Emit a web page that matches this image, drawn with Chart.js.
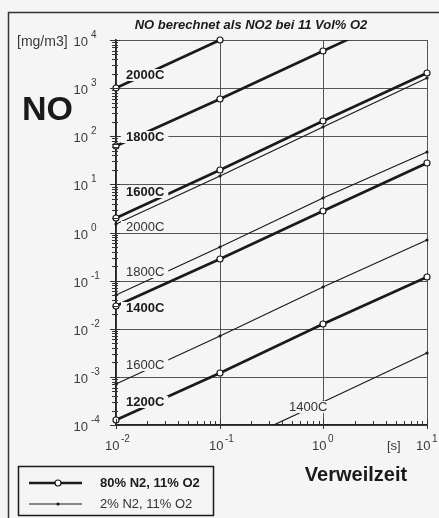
<!DOCTYPE html>
<html>
<head>
<meta charset="utf-8">
<script src="https://cdn.jsdelivr.net/npm/chart.js@4.4.1/dist/chart.umd.min.js"></script>
<style>
html,body{margin:0;padding:0;background:#f5f5f5;}
#wrap{width:439px;height:518px;position:relative;overflow:hidden;}
</style>
</head>
<body>
<div id="wrap"><canvas id="c" width="439" height="518"></canvas></div>
<script>
// ---- data ----
const times = [0.01, 0.1, 1, 10];               // Verweilzeit [s]
// 80% N2, 11% O2 (thick lines, open circles)
const no80_2000 = [1000, 10000, null, null];
const no80_1800 = [62, 595, 6000, 60000];
const no80_1600 = [2.0, 20, 210, 2050];
const no80_1400 = [0.03, 0.28, 2.8, 27.6];
const no80_1200 = [0.000125, 0.0012, 0.0126, 0.12];
// 2% N2, 11% O2 (thin lines, small dots)
const no2_2000 = [1.5, 15, 155, 1600];
const no2_1800 = [0.05, 0.5, 5.2, 47];
const no2_1600 = [0.0007, 0.0071, 0.074, 0.7];
const no2_1400 = [0.000003, 0.00003, 0.0003, 0.0032];
// tick labels (powers of ten)
const yTickExps = [-4, -3, -2, -1, 0, 1, 2, 3, 4];
const xTickExps = [-2, -1, 0, 1];
const seriesNames = ['80% N2, 11% O2', '2% N2, 11% O2'];
const titleText = 'NO berechnet als NO2 bei 11 Vol% O2';

// ---- line labels (text + anchor in data coordinates) ----
const lineLabels = [
  {text: '2000C', bold: true,  t: 0.0125, v: Math.pow(10, 3.27)},
  {text: '1800C', bold: true,  t: 0.0125, v: Math.pow(10, 1.98)},
  {text: '1600C', bold: true,  t: 0.0125, v: Math.pow(10, 0.84)},
  {text: '2000C', bold: false, t: 0.0125, v: Math.pow(10, 0.11)},
  {text: '1800C', bold: false, t: 0.0125, v: Math.pow(10, -0.82)},
  {text: '1400C', bold: true,  t: 0.0125, v: Math.pow(10, -1.57)},
  {text: '1600C', bold: false, t: 0.0125, v: Math.pow(10, -2.75)},
  {text: '1200C', bold: true,  t: 0.0125, v: Math.pow(10, -3.52)},
  {text: '1400C', bold: false, t: 0.47,   v: Math.pow(10, -3.63)}
];

const BG = '#f5f5f5';
const INK = '#1a1a1a';
const FONT = '"Liberation Sans", Arial, Helvetica, sans-serif';

function pts(arr) { return times.map((t, i) => ({x: t, y: arr[i]})); }

function thick(arr, clip) {
  return {
    data: pts(arr), borderColor: INK, borderWidth: 2.6,
    pointRadius: 3, pointBackgroundColor: '#ffffff', pointBorderColor: INK, pointBorderWidth: 1.2,
    pointStyle: 'circle', tension: 0, spanGaps: false, clip: clip, order: 1
  };
}
function thin(arr, clip) {
  return {
    data: pts(arr), borderColor: INK, borderWidth: 1.2,
    pointRadius: 1.6, pointBackgroundColor: INK, pointBorderColor: INK, pointBorderWidth: 0,
    pointStyle: 'circle', tension: 0, clip: clip, order: 2
  };
}
const edgeClip = {left: 5, right: 5, top: 5, bottom: 5};

const datasets = [
  thick(no80_2000, edgeClip),
  thick(no80_1800, {left: 5, right: 5, top: 0, bottom: 5}),
  thick(no80_1600, edgeClip),
  thick(no80_1400, edgeClip),
  thick(no80_1200, edgeClip),
  thin(no2_2000, edgeClip),
  thin(no2_1800, edgeClip),
  thin(no2_1600, edgeClip),
  thin(no2_1400, {left: 5, right: 5, top: 5, bottom: 0})
];

function decadeTicks(exps) { return exps.map(e => ({value: Math.pow(10, e)})); }

const figPlugin = {
  id: 'fig',
  beforeDraw(chart) {
    const ctx = chart.ctx;
    ctx.save();
    ctx.fillStyle = BG;
    ctx.fillRect(0, 0, chart.width, chart.height);
    ctx.restore();
  },
  afterDatasetsDraw(chart) {
    const ctx = chart.ctx, xs = chart.scales.x, ys = chart.scales.y;
    ctx.save();
    ctx.textBaseline = 'middle';
    ctx.textAlign = 'left';
    lineLabels.forEach(l => {
      const px = xs.getPixelForValue(l.t), py = ys.getPixelForValue(l.v);
      ctx.font = (l.bold ? 'bold ' : '') + '13px ' + FONT;
      const w = ctx.measureText(l.text).width;
      ctx.fillStyle = BG;
      ctx.fillRect(px - 5, py - 6, w + 9, 12);
      ctx.fillStyle = l.bold ? INK : '#333';
      ctx.fillText(l.text, px, py + 0.5);
    });
    ctx.restore();
  },
  afterDraw(chart) {
    const ctx = chart.ctx, xs = chart.scales.x, ys = chart.scales.y, ca = chart.chartArea;
    ctx.save();
    // minor / major tick marks
    ctx.strokeStyle = '#333';
    ctx.lineWidth = 1;
    ctx.beginPath();
    for (let e = -4; e < 4; e++) {
      for (let m = 2; m <= 9; m++) {
        const py = Math.round(ys.getPixelForValue(m * Math.pow(10, e))) + 0.5;
        ctx.moveTo(ca.left - 4, py); ctx.lineTo(ca.left + 2, py);
      }
    }
    yTickExps.forEach(e => {
      const py = Math.round(ys.getPixelForValue(Math.pow(10, e))) + 0.5;
      ctx.moveTo(ca.left - 6, py); ctx.lineTo(ca.left + 4, py);
    });
    for (let e = -2; e < 1; e++) {
      for (let m = 2; m <= 9; m++) {
        const px = Math.round(xs.getPixelForValue(m * Math.pow(10, e))) + 0.5;
        ctx.moveTo(px, ca.bottom); ctx.lineTo(px, ca.bottom - 4);
      }
    }
    xTickExps.forEach(e => {
      const px = Math.round(xs.getPixelForValue(Math.pow(10, e))) + 0.5;
      ctx.moveTo(px, ca.bottom + 4); ctx.lineTo(px, ca.bottom - 6);
    });
    ctx.stroke();

    // y tick labels
    ctx.fillStyle = '#3a3a3a';
    ctx.textBaseline = 'middle';
    yTickExps.forEach(e => {
      const py = ys.getPixelForValue(Math.pow(10, e));
      ctx.font = '13px ' + FONT;
      ctx.textAlign = 'right';
      ctx.fillText('10', 88, py + 2);
      ctx.font = '10px ' + FONT;
      ctx.textAlign = 'left';
      ctx.fillText(String(e), 91, py - 5);
    });
    // x tick labels
    xTickExps.forEach(e => {
      const px = xs.getPixelForValue(Math.pow(10, e));
      ctx.font = '13px ' + FONT;
      ctx.textAlign = 'left';
      ctx.fillText('10', px - 11, 446);
      ctx.font = '10px ' + FONT;
      ctx.fillText(String(e), px + 5, 439);
    });
    // units
    ctx.font = '13px ' + FONT;
    ctx.textAlign = 'left';
    ctx.fillText('[s]', 387, 446);
    ctx.font = '14px ' + FONT;
    ctx.fillText('[mg/m3]', 17, 42);

    // big axis titles
    ctx.fillStyle = INK;
    ctx.font = 'bold 34px ' + FONT;
    ctx.fillText('NO', 22, 111);
    ctx.font = 'bold 20px ' + FONT;
    ctx.textAlign = 'center';
    ctx.fillText('Verweilzeit', 356, 475);
    // title
    ctx.font = 'italic bold 13px ' + FONT;
    ctx.fillText(titleText, 251, 25);

    // legend
    ctx.strokeStyle = INK;
    ctx.lineWidth = 1.5;
    ctx.strokeRect(18.5, 466.5, 195, 49);
    ctx.beginPath(); ctx.lineWidth = 2.6;
    ctx.moveTo(29, 483); ctx.lineTo(82, 483); ctx.stroke();
    ctx.beginPath(); ctx.lineWidth = 1.2; ctx.fillStyle = '#fff';
    ctx.arc(58, 483, 3, 0, Math.PI * 2); ctx.fill(); ctx.stroke();
    ctx.beginPath(); ctx.lineWidth = 1.2;
    ctx.moveTo(29, 504); ctx.lineTo(82, 504); ctx.stroke();
    ctx.beginPath(); ctx.fillStyle = INK;
    ctx.arc(58, 504, 1.6, 0, Math.PI * 2); ctx.fill();
    ctx.textAlign = 'left';
    ctx.font = 'bold 13px ' + FONT;
    ctx.fillText(seriesNames[0], 100, 483);
    ctx.fillStyle = '#333';
    ctx.font = '13px ' + FONT;
    ctx.fillText(seriesNames[1], 100, 504);

    // outer frame
    ctx.strokeStyle = '#333';
    ctx.lineWidth = 1.5;
    ctx.strokeRect(8.5, 12.5, 520, 600);
    ctx.restore();
  }
};

new Chart(document.getElementById('c'), {
  type: 'line',
  data: {datasets: datasets},
  options: {
    responsive: false,
    animation: false,
    devicePixelRatio: 1,
    layout: {padding: {left: 116, top: 40, right: 12, bottom: 93}},
    plugins: {legend: {display: false}, tooltip: {enabled: false}, title: {display: false}},
    scales: {
      x: {
        type: 'logarithmic', min: 0.01, max: 10, alignToPixels: true,
        afterBuildTicks: s => { s.ticks = decadeTicks(xTickExps); },
        ticks: {display: false},
        grid: {color: '#555', lineWidth: 1, drawTicks: false},
        border: {display: true, color: '#222', width: 1.5}
      },
      y: {
        type: 'logarithmic', min: 0.0001, max: 10000, alignToPixels: true,
        afterBuildTicks: s => { s.ticks = decadeTicks(yTickExps); },
        ticks: {display: false},
        grid: {color: '#555', lineWidth: 1, drawTicks: false},
        border: {display: true, color: '#222', width: 1.5}
      }
    }
  },
  plugins: [figPlugin]
});
</script>
</body>
</html>
